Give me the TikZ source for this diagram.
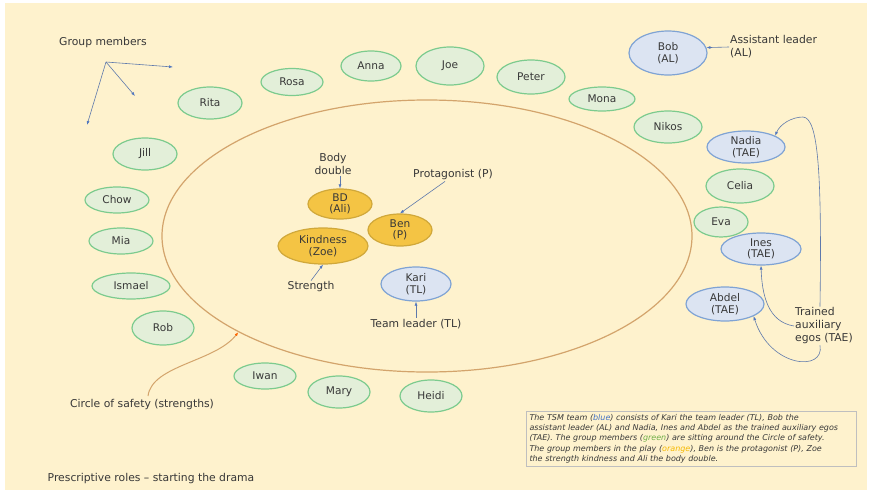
\documentclass[tikz,border=0pt]{standalone}
\usepackage{fontspec}
\setmainfont{DejaVu Sans}
\usetikzlibrary{shapes.geometric,arrows.meta}
\definecolor{bg}{HTML}{FEF2CD}
\definecolor{txt}{HTML}{383838}
\definecolor{gfill}{HTML}{E3EFD9}
\definecolor{gline}{HTML}{7CCB8E}
\definecolor{bfill}{HTML}{DCE4F2}
\definecolor{bline}{HTML}{7FA3D4}
\definecolor{ofill}{HTML}{F4C444}
\definecolor{oline}{HTML}{D0A83A}
\definecolor{cosline}{HTML}{D3A46C}
\definecolor{arrblue}{HTML}{4F76BF}
\definecolor{capblue}{HTML}{4472C4}
\definecolor{capgreen}{HTML}{6FAE48}
\definecolor{caporange}{HTML}{F5B800}
\tikzset{
  base/.style={ellipse, draw, line width=1.2pt, inner sep=0pt, align=center, text=txt, font=\fontsize{10.6}{11.5}\selectfont},
  gm/.style={base, fill=gfill, draw=gline},
  tm/.style={base, fill=bfill, draw=bline},
  om/.style={base, fill=ofill, draw=oline},
  lbl/.style={text=txt, font=\fontsize{10.8}{13}\selectfont, inner sep=1pt},
  arr/.style={draw=arrblue!70!gray, line width=0.6pt, -{Latex[length=4pt,width=3pt,color=arrblue]}},
}
\begin{document}
\begin{tikzpicture}[x=1pt,y=-1pt]
\fill[white] (0,0) rectangle (870,490);
\fill[bg] (5,3) rectangle (867,490);
\useasboundingbox (0,0) rectangle (870,490);

% circle of safety
\node[draw=cosline, line width=1.2pt, ellipse, minimum width=530pt, minimum height=272pt, inner sep=0pt] (cos) at (427,236) {};

% group members
\node[lbl] (gmt) at (103,43) {Group members};
\coordinate (hub) at (106,62);
\coordinate (g1) at (173,67);
\coordinate (g2) at (135,96);
\coordinate (g3) at (87,125);
\draw[arr] (hub) -- (g1);
\draw[arr] (hub) -- (g2);
\draw[arr] (hub) -- (g3);

\node[gm, minimum width=64pt, minimum height=32pt] (rita) at (210,103) {Rita};
\node[gm, minimum width=62pt, minimum height=27pt] (rosa) at (292,82) {Rosa};
\node[gm, minimum width=60pt, minimum height=30pt] (anna) at (371,66) {Anna};
\node[gm, minimum width=68pt, minimum height=38pt] (joe) at (450,66) {Joe};
\node[gm, minimum width=68pt, minimum height=34pt] (peter) at (531,77) {Peter};
\node[gm, minimum width=66pt, minimum height=24pt] (mona) at (602,99) {Mona};
\node[gm, minimum width=68pt, minimum height=32pt] (nikos) at (668,127) {Nikos};
\node[gm, minimum width=68pt, minimum height=34pt] (celia) at (740,186) {Celia};
\node[gm, minimum width=54pt, minimum height=30pt] (eva) at (721,222) {Eva};
\node[gm, minimum width=64pt, minimum height=32pt] (jill) at (145,154) {Jill};
\node[gm, minimum width=64pt, minimum height=26pt] (chow) at (117,200) {Chow};
\node[gm, minimum width=64pt, minimum height=26pt] (mia) at (121,241) {Mia};
\node[gm, minimum width=78pt, minimum height=26pt] (ismael) at (131,286) {Ismael};
\node[gm, minimum width=62pt, minimum height=34pt] (rob) at (163,328) {Rob};
\node[gm, minimum width=62pt, minimum height=26pt] (iwan) at (265,376) {Iwan};
\node[gm, minimum width=62pt, minimum height=32pt] (mary) at (339,392) {Mary};
\node[gm, minimum width=62pt, minimum height=32pt] (heidi) at (431,396) {Heidi};

% team
\node[tm, minimum width=78pt, minimum height=44pt] (bob) at (668,53) {Bob\\(AL)};
\node[tm, minimum width=78pt, minimum height=32pt] (nadia) at (746,147) {Nadia\\(TAE)};
\node[tm, minimum width=80pt, minimum height=32pt] (ines) at (761,249) {Ines\\(TAE)};
\node[tm, minimum width=78pt, minimum height=34pt] (abdel) at (725,304) {Abdel\\(TAE)};
\node[tm, minimum width=70pt, minimum height=34pt] (kari) at (416,284) {Kari\\(TL)};

% play
\node[om, minimum width=64pt, minimum height=30pt] (bd) at (340,204) {BD\\(Ali)};
\node[om, minimum width=64pt, minimum height=32pt] (ben) at (400,230) {Ben\\(P)};
\node[om, minimum width=90pt, minimum height=36pt] (kind) at (323,246) {Kindness\\(Zoe)};

% labels
\node[lbl, align=left, anchor=west] (al) at (729,47) {Assistant leader\\(AL)};
\draw[arr] (al.west) -- (bob.8);

\node[lbl, align=left, anchor=west] (tae) at (794,326) {Trained\\auxiliary\\egos (TAE)};
\draw[arr] ([xshift=-4pt]tae.north) .. controls (822,170) and (818,118) .. (803,117) .. controls (792,117) and (780,124) .. (nadia.21);
\draw[arr] (tae.west) .. controls (768,322) and (762,295) .. (ines.south);
\draw[arr] ([xshift=-4pt]tae.south) .. controls (825,372) and (770,368) .. (abdel.-23);

\node[lbl, align=center] (bdt) at (333,164) {Body\\double};
\draw[arr] (bdt.south -| bd.north) -- (bd.north);

\node[lbl] (prot) at (453,175) {Protagonist (P)};
\draw[arr] ([xshift=-8pt]prot.south) -- (ben.north);

\node[lbl] (str) at (311,287) {Strength};
\draw[arr] (str.north) -- (kind.south);

\node[lbl] (tlt) at (416,324) {Team leader (TL)};
\draw[arr] (tlt.north) -- (kari.south);

\node[lbl] (cost) at (142,405) {Circle of safety (strengths)};
\draw[draw=cosline, line width=1pt, -{Latex[length=4pt,width=3pt,color=orange!80!red]}] (148,396) .. controls (152,365) and (215,362) .. (cos.207);

\node[lbl] (pres) at (151,479) {Prescriptive roles – starting the drama};

% caption
\node[draw=gray!50, line width=0.8pt, fill=bg, minimum width=329pt, minimum height=55pt, text width=324pt, align=left, inner sep=3pt, text=txt, font=\fontsize{8}{10.3}\selectfont\itshape] (cap) at (691.5,438.5) {The TSM team (\textcolor{capblue}{blue}) consists of Kari the team leader (TL), Bob the\\assistant leader (AL) and Nadia, Ines and Abdel as the trained auxiliary egos\\(TAE). The group members (\textcolor{capgreen}{green}) are sitting around the Circle of safety.\\The group members in the play (\textcolor{caporange}{orange}), Ben is the protagonist (P), Zoe\\the strength kindness and Ali the body double.};
\end{tikzpicture}
\end{document}
